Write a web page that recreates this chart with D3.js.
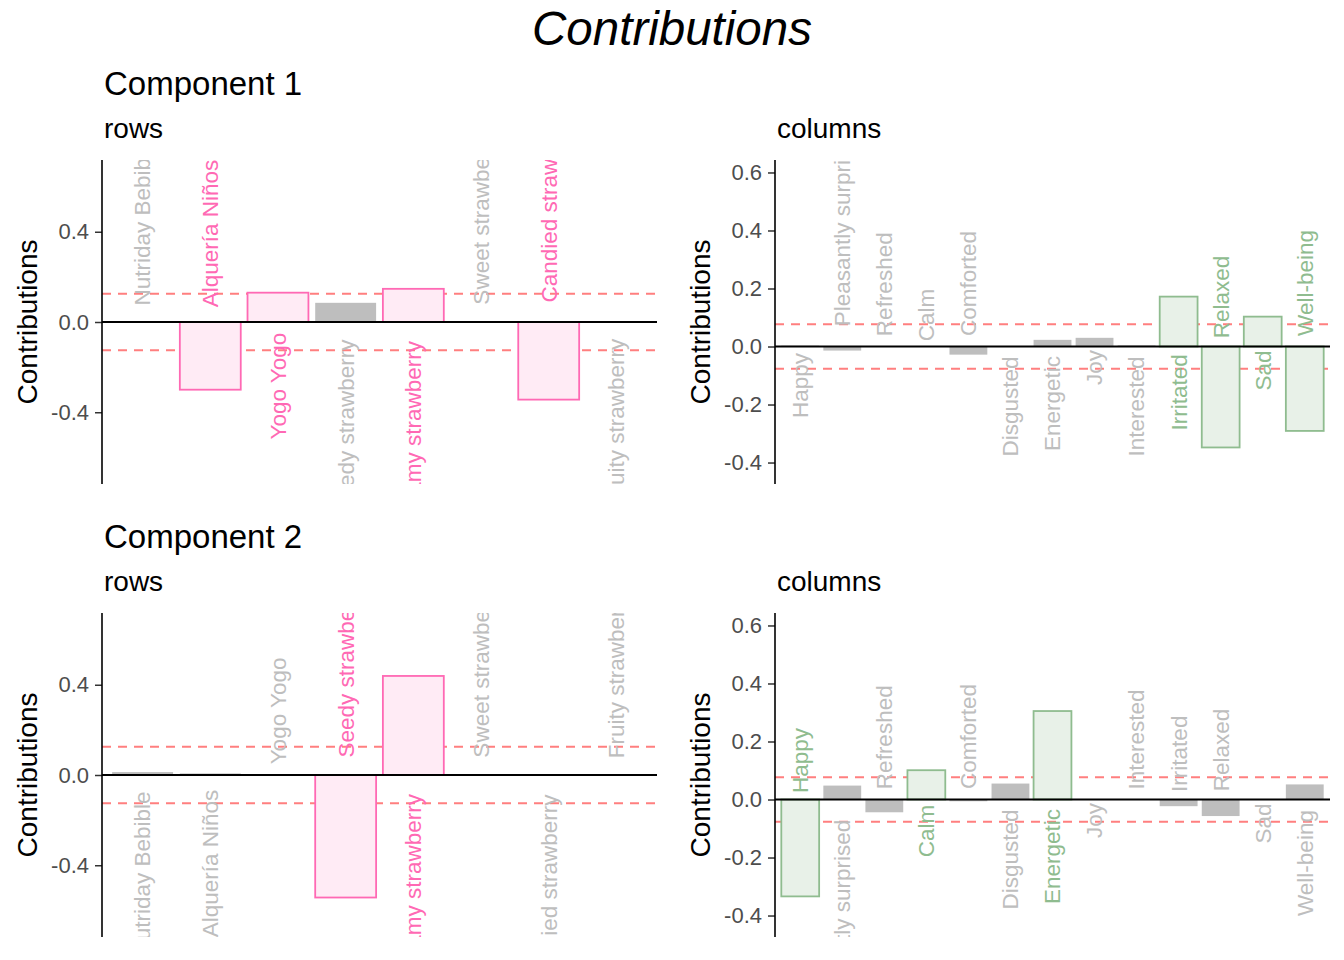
<!DOCTYPE html>
<html>
<head>
<meta charset="utf-8">
<script src="https://cdn.jsdelivr.net/npm/d3@7"></script>
<style>
  body { margin: 0; background: #fff; }
  text { font-family: "Liberation Sans", Arial, sans-serif; }
</style>
</head>
<body>
<div id="chart"></div>
<script>
// Data
const rowNames = ["Nutriday Bebible", "Alquería Niños", "Yogo Yogo", "Seedy strawberry",
  "Creamy strawberry", "Sweet strawberry", "Candied strawberry", "Fruity strawberry"];
const colNames = ["Happy", "Pleasantly surprised", "Refreshed", "Calm", "Comforted", "Disgusted",
  "Energetic", "Joy", "Interested", "Irritated", "Relaxed", "Sad", "Well-being"];

const rowsComp1 = [-0.003, -0.300, 0.130, 0.085, 0.147, -0.003, -0.344, 0.003];
const colsComp1 = [0.003, -0.014, -0.001, -0.001, -0.028, 0.001, 0.023, 0.030, 0.004, 0.172, -0.348, 0.103, -0.291];
const rowsComp2 = [0.013, 0.007, -0.001, -0.543, 0.439, -0.001, 0.001, -0.001];
const colsComp2 = [-0.334, 0.048, -0.044, 0.101, -0.006, 0.055, 0.305, 0.001, -0.001, -0.023, -0.057, 0.001, 0.052];

const rowThreshold = 0.125;
const colThreshold = 0.077;

const rowTicks = [-0.4, 0.0, 0.4];
const colTicks = [-0.4, -0.2, 0.0, 0.2, 0.4, 0.6];

// Styles
const grayFill = "#bebebe";
const rowColor = "#ff69b4";
const rowFill = "#ffebf5";
const colColor = "#8fbc8f";
const colFill = "#e8f1e8";
const dashColor = "#ff7f7f";

// Layout
const width = 1344, height = 960;
const panelW = 555, panelH = 324;
const leftX = 102, rightX = 775;
const topY = 160, bottomY = 613;

const svg = d3.select("#chart").append("svg")
  .attr("width", width)
  .attr("height", height);

svg.append("text")
  .attr("x", 672)
  .attr("y", 45)
  .attr("text-anchor", "middle")
  .style("font-size", "47.5px")
  .style("font-style", "italic")
  .text("Contributions");

const panels = [
  { comp: "Component 1", sub: "rows", x0: leftX, y0: topY, names: rowNames, values: rowsComp1,
    thr: rowThreshold, domain: [-0.718, 0.718], ticks: rowTicks, color: rowColor, fill: rowFill },
  { sub: "columns", x0: rightX, y0: topY, names: colNames, values: colsComp1,
    thr: colThreshold, domain: [-0.474, 0.643], ticks: colTicks, color: colColor, fill: colFill },
  { comp: "Component 2", sub: "rows", x0: leftX, y0: bottomY, names: rowNames, values: rowsComp2,
    thr: rowThreshold, domain: [-0.718, 0.718], ticks: rowTicks, color: rowColor, fill: rowFill },
  { sub: "columns", x0: rightX, y0: bottomY, names: colNames, values: colsComp2,
    thr: colThreshold, domain: [-0.474, 0.643], ticks: colTicks, color: colColor, fill: colFill }
];

panels.forEach((p, pi) => {
  const data = p.names.map((n, i) => ({ name: n, value: p.values[i] }));
  const hi = d => Math.abs(d.value) > p.thr;

  const x = d3.scaleBand()
    .domain(p.names)
    .range([p.x0, p.x0 + panelW])
    .paddingInner(0.1)
    .paddingOuter(0.15);
  const y = d3.scaleLinear()
    .domain(p.domain)
    .range([p.y0 + panelH, p.y0]);

  if (p.comp) {
    svg.append("text")
      .attr("x", p.x0 + 2)
      .attr("y", p.y0 - 65)
      .style("font-size", "33px")
      .text(p.comp);
  }
  svg.append("text")
    .attr("x", p.x0 + 2)
    .attr("y", p.y0 - 22)
    .style("font-size", "28px")
    .text(p.sub);

  // y axis title
  svg.append("text")
    .attr("transform", `translate(${p.x0 - 65},${p.y0 + panelH / 2}) rotate(-90)`)
    .attr("text-anchor", "middle")
    .style("font-size", "28px")
    .text("Contributions");

  const clipId = "clip" + pi;
  svg.append("clipPath").attr("id", clipId)
    .append("rect")
    .attr("x", p.x0).attr("y", p.y0)
    .attr("width", panelW).attr("height", panelH);

  const g = svg.append("g").attr("clip-path", `url(#${clipId})`);

  // threshold lines
  [p.thr, -p.thr].forEach(t => {
    g.append("line")
      .attr("x1", p.x0).attr("x2", p.x0 + panelW)
      .attr("y1", y(t)).attr("y2", y(t))
      .attr("stroke", dashColor)
      .attr("stroke-width", 2)
      .attr("stroke-dasharray", "9,7");
  });

  g.selectAll("rect.bar")
    .data(data)
    .enter()
    .append("rect")
    .attr("class", "bar")
    .attr("x", d => x(d.name))
    .attr("width", x.bandwidth())
    .attr("y", d => y(Math.max(0, d.value)))
    .attr("height", d => Math.abs(y(d.value) - y(0)))
    .attr("fill", d => hi(d) ? p.fill : grayFill)
    .attr("stroke", d => hi(d) ? p.color : "none")
    .attr("stroke-width", 1.8);

  g.append("line")
    .attr("x1", p.x0).attr("x2", p.x0 + panelW)
    .attr("y1", y(0)).attr("y2", y(0))
    .attr("stroke", "black")
    .attr("stroke-width", 2);

  // labels, rotated, on the opposite side of the bar
  g.selectAll("text.lab")
    .data(data)
    .enter()
    .append("text")
    .attr("class", "lab")
    .attr("transform", d => `translate(${x(d.name) + x.bandwidth() / 2},${y(0)}) rotate(-90)`)
    .attr("dy", "0.35em")
    .attr("text-anchor", d => d.value < 0 ? "start" : "end")
    .style("font-size", "22.5px")
    .attr("fill", d => hi(d) ? p.color : grayFill)
    .text(d => d.name)
    .attr("x", function(d) {
      const len = this.getComputedTextLength();
      return d.value < 0 ? 0.1 * len : -0.1 * len;
    });

  // y axis
  const axis = svg.append("g")
    .attr("transform", `translate(${p.x0},0)`)
    .call(d3.axisLeft(y).tickValues(p.ticks).tickFormat(d => d.toFixed(1)).tickSize(7).tickPadding(6));
  axis.select(".domain").remove();
  axis.selectAll(".tick line").attr("stroke", "#333").attr("stroke-width", 1.5);
  axis.selectAll(".tick text")
    .attr("fill", "#4d4d4d")
    .style("font-size", "22px")
    .style("font-family", "'Liberation Sans', Arial, sans-serif");
  svg.append("line")
    .attr("x1", p.x0).attr("x2", p.x0)
    .attr("y1", p.y0).attr("y2", p.y0 + panelH)
    .attr("stroke", "black")
    .attr("stroke-width", 1.6);
});
</script>
</body>
</html>
